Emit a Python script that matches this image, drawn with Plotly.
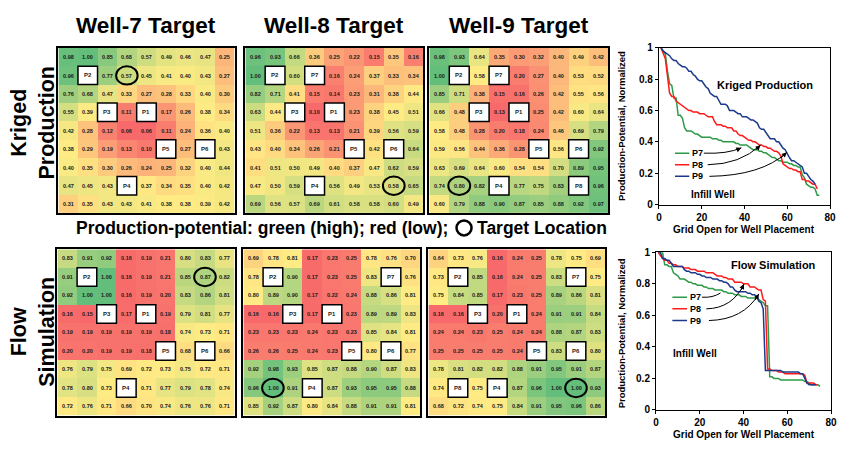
import numpy as np
import plotly.graph_objects as go

W, H = 843, 450
N = None  # cell occupied by an existing well

# ---------------- production-potential grids (9 x 9) ----------------
kriged_w7 = [
    [0.98, 1.00, 0.85, 0.68, 0.57, 0.49, 0.46, 0.47, 0.25],
    [0.96, N,    0.77, 0.57, 0.45, 0.41, 0.40, 0.43, 0.27],
    [0.76, 0.68, 0.47, 0.33, 0.27, 0.28, 0.33, 0.40, 0.30],
    [0.55, 0.39, N,    0.11, N,    0.17, 0.26, 0.38, 0.34],
    [0.42, 0.28, 0.12, 0.06, 0.06, 0.11, 0.24, 0.36, 0.40],
    [0.38, 0.29, 0.19, 0.13, 0.10, N,    0.27, N,    0.43],
    [0.40, 0.35, 0.30, 0.26, 0.24, 0.25, 0.32, 0.40, 0.44],
    [0.47, 0.45, 0.43, N,    0.37, 0.34, 0.35, 0.40, 0.42],
    [0.31, 0.35, 0.43, 0.43, 0.41, 0.38, 0.38, 0.39, 0.42],
]
kriged_w8 = [
    [0.96, 0.93, 0.66, 0.36, 0.25, 0.22, 0.15, 0.35, 0.16],
    [1.00, N,    0.60, N,    0.16, 0.24, 0.37, 0.33, 0.34],
    [0.82, 0.71, 0.41, 0.15, 0.14, 0.23, 0.31, 0.38, 0.44],
    [0.63, 0.44, N,    0.10, N,    0.23, 0.38, 0.45, 0.51],
    [0.51, 0.36, 0.22, 0.13, 0.13, 0.21, 0.39, 0.56, 0.59],
    [0.43, 0.40, 0.34, 0.26, 0.21, N,    0.42, N,    0.64],
    [0.41, 0.51, 0.50, 0.49, 0.40, 0.37, 0.47, 0.62, 0.59],
    [0.47, 0.50, 0.59, N,    0.56, 0.49, 0.53, 0.58, 0.65],
    [0.69, 0.56, 0.57, 0.69, 0.61, 0.58, 0.58, 0.60, 0.49],
]
kriged_w9 = [
    [0.98, 0.93, 0.64, 0.35, 0.30, 0.32, 0.40, 0.49, 0.42],
    [1.00, N,    0.58, N,    0.20, 0.27, 0.40, 0.53, 0.52],
    [0.85, 0.71, 0.38, 0.15, 0.16, 0.26, 0.42, 0.55, 0.56],
    [0.66, 0.48, N,    0.13, N,    0.25, 0.42, 0.60, 0.64],
    [0.58, 0.48, 0.28, 0.20, 0.18, 0.24, 0.46, 0.69, 0.79],
    [0.59, 0.56, 0.44, 0.36, 0.28, N,    0.56, N,    0.92],
    [0.63, 0.69, 0.64, 0.60, 0.54, 0.54, 0.70, 0.89, 0.95],
    [0.74, 0.80, 0.82, N,    0.77, 0.75, 0.83, N,    0.96],
    [0.60, 0.79, 0.88, 0.90, 0.87, 0.85, 0.88, 0.92, 0.97],
]
flow_w7 = [
    [0.83, 0.91, 0.92, 0.16, 0.19, 0.21, 0.80, 0.83, 0.77],
    [0.91, N,    1.00, 0.16, 0.19, 0.21, 0.85, 0.87, 0.82],
    [0.92, 1.00, 1.00, 0.16, 0.19, 0.20, 0.83, 0.86, 0.81],
    [0.16, 0.15, N,    0.17, N,    0.19, 0.79, 0.81, 0.77],
    [0.19, 0.19, 0.19, 0.19, 0.19, 0.18, 0.74, 0.73, 0.71],
    [0.20, 0.20, 0.19, 0.19, 0.18, N,    0.68, N,    0.66],
    [0.76, 0.79, 0.75, 0.69, 0.72, 0.73, 0.75, 0.72, 0.71],
    [0.78, 0.80, 0.73, N,    0.71, 0.77, 0.79, 0.78, 0.74],
    [0.72, 0.76, 0.71, 0.66, 0.70, 0.74, 0.76, 0.76, 0.71],
]
flow_w8 = [
    [0.69, 0.78, 0.81, 0.17, 0.23, 0.25, 0.78, 0.76, 0.70],
    [0.78, N,    0.90, 0.17, 0.23, 0.25, 0.83, N,    0.76],
    [0.80, 0.89, 0.90, 0.17, 0.22, 0.24, 0.88, 0.86, 0.81],
    [0.16, 0.16, N,    0.17, N,    0.23, 0.89, 0.89, 0.83],
    [0.23, 0.23, 0.23, 0.24, 0.23, 0.23, 0.85, 0.84, 0.81],
    [0.26, 0.26, 0.25, 0.24, 0.23, N,    0.80, N,    0.77],
    [0.92, 0.98, 0.93, 0.85, 0.87, 0.88, 0.90, 0.87, 0.83],
    [0.96, 1.00, 0.91, N,    0.87, 0.93, 0.95, 0.95, 0.88],
    [0.85, 0.92, 0.87, 0.80, 0.84, 0.88, 0.91, 0.91, 0.81],
]
flow_w9 = [
    [0.64, 0.73, 0.76, 0.16, 0.24, 0.25, 0.78, 0.75, 0.69],
    [0.73, N,    0.85, 0.16, 0.24, 0.25, 0.83, N,    0.75],
    [0.75, 0.84, 0.85, 0.17, 0.23, 0.25, 0.89, 0.86, 0.81],
    [0.16, 0.16, N,    0.20, N,    0.24, 0.91, 0.91, 0.84],
    [0.24, 0.24, 0.23, 0.25, 0.24, 0.24, 0.88, 0.87, 0.83],
    [0.25, 0.25, 0.25, 0.25, 0.24, N,    0.83, N,    0.80],
    [0.78, 0.81, 0.82, 0.82, 0.88, 0.91, 0.95, 0.91, 0.87],
    [0.74, N,    0.75, N,    0.87, 0.96, 1.00, 1.00, 0.93],
    [0.68, 0.72, 0.74, 0.75, 0.84, 0.91, 0.95, 0.96, 0.86],
]

# existing wells (row, col) and the target location of each scenario
base_wells = {"P1": (3, 4), "P2": (1, 1), "P3": (3, 2), "P4": (7, 3), "P5": (5, 5), "P6": (5, 7)}
kriged_wells = [base_wells,
                {**base_wells, "P7": (1, 3)},
                {**base_wells, "P7": (1, 3), "P8": (7, 7)}]
flow_wells = [base_wells,
              {**base_wells, "P7": (1, 7)},
              {**base_wells, "P7": (1, 7), "P8": (7, 1)}]
kriged_targets = [(1, 3), (7, 7), (7, 1)]
flow_targets = [(1, 7), (7, 1), (7, 7)]

targets = ["Well-7 Target", "Well-8 Target", "Well-9 Target"]
curve_names = ["P7", "P8", "P9"]
curve_colors = ["#2E9A47", "#FF1A1A", "#1B3A8C"]

grids = [kriged_w7, kriged_w8, kriged_w9, flow_w7, flow_w8, flow_w9]
wells_all = kriged_wells + flow_wells
targets_all = kriged_targets + flow_targets

# panel boxes in pixels: (left, right, top, bottom)
heat_boxes = [(56, 234, 43, 213), (245, 425, 43, 213), (431, 612, 43, 213),
              (55, 234, 250, 421), (243, 422, 250, 421), (430, 609, 250, 421)]
line_boxes = [(663, 836, 43, 204), (660, 837, 253, 415)]

FONT = "Liberation Sans"
fig = go.Figure()
layout = {}
shapes = []
annotations = []


def ax_keys(i):
    return ("xaxis" if i == 1 else f"xaxis{i}", "yaxis" if i == 1 else f"yaxis{i}",
            "x" if i == 1 else f"x{i}", "y" if i == 1 else f"y{i}")


def paper_text(xp, yp, text, size, angle=0, xanchor="center"):
    return dict(xref="paper", yref="paper", x=xp / W, y=1 - yp / H, text=text,
                xanchor=xanchor, yanchor="middle", textangle=angle, showarrow=False,
                font=dict(family=FONT, size=size, color="black"))


# ---------------- heatmaps ----------------
for k, grid in enumerate(grids):
    i = k + 1
    xk, yk, xr, yr = ax_keys(i)
    arr = np.array([[np.nan if v is None else v for v in row] for row in grid])
    vmin, vmax, med = np.nanmin(arr), np.nanmax(arr), np.nanmedian(arr)
    mid = (med - vmin) / (vmax - vmin)
    cscale = [[0, "#F8696B"], [mid, "#FFEB84"], [1, "#63BE7B"]]
    text = [["" if v is None else f"{v:.2f}" for v in row] for row in grid]
    fig.add_trace(go.Heatmap(
        z=grid, text=text, texttemplate="%{text}",
        textfont=dict(family=FONT, size=5.5, color="#1a1a1a", weight="bold"),
        colorscale=cscale, zmin=vmin, zmax=vmax, showscale=False,
        hoverinfo="skip", xaxis=xr, yaxis=yr))
    l, r, t, b = heat_boxes[k]
    common = dict(showticklabels=False, ticks="", showgrid=False, zeroline=False,
                  showline=True, mirror=True, linecolor="black", linewidth=1.5)
    layout[xk] = dict(domain=[l / W, r / W], anchor=yr, range=[-0.5, 8.5], **common)
    layout[yk] = dict(domain=[1 - b / H, 1 - t / H], anchor=xr, range=[8.5, -0.5], **common)

    for name, (rr, cc) in wells_all[k].items():
        shapes.append(dict(type="rect", xref=xr, yref=yr, x0=cc - 0.5, x1=cc + 0.5,
                           y0=rr - 0.5, y1=rr + 0.5, fillcolor="white",
                           line=dict(color="black", width=1.5), layer="above"))
        annotations.append(dict(xref=xr, yref=yr, x=cc, y=rr, text=f"<b>{name}</b>",
                                showarrow=False, font=dict(family=FONT, size=6, color="#222")))
    tr, tc = targets_all[k]
    shapes.append(dict(type="circle", xref=xr, yref=yr, x0=tc - 0.55, x1=tc + 0.55,
                       y0=tr - 0.5, y1=tr + 0.5, line=dict(color="black", width=2),
                       layer="above"))

# column titles and row labels
for k in range(3):
    l, r, _, _ = heat_boxes[k]
    annotations.append(paper_text((l + r) / 2, 20, f"<b>{targets[k]}</b>", 22.5))
annotations.append(paper_text(30, 120, "<b>Kriged<br>Production</b>", 21.5, angle=-90))
annotations.append(paper_text(30, 335, "<b>Flow<br>Simulation</b>", 21.5, angle=-90))

# colour key line between the rows
annotations.append(paper_text(72, 228, "<b>Production-potential: green (high); red (low);</b>",
                              17.5, xanchor="left"))
annotations.append(paper_text(477, 228, "<b>Target Location</b>", 17.5, xanchor="left"))
shapes.append(dict(type="circle", xref="paper", yref="paper", xsizemode="pixel",
                   ysizemode="pixel", xanchor=466 / W, yanchor=1 - 228 / H,
                   x0=-7.5, x1=7.5, y0=-7.5, y1=7.5, line=dict(color="black", width=2.5)))

# ---------------- ranked production-potential curves ----------------
panel_grids = [[kriged_w7, kriged_w8, kriged_w9], [flow_w7, flow_w8, flow_w9]]
panel_titles = ["Kriged Production", "Flow Simulation"]
title_pos = [(49.5, 0.765), (53.5, 0.918)]
infill_pos = [(25.4, 0.064), (17.9, 0.357)]
legend_y = [[0.328, 0.254, 0.180], [0.715, 0.641, 0.567]]
arrows = [
    [((21.0, 0.328), (32, 0.322), (38.5, 0.362)),
     ((22.8, 0.254), (38, 0.257), (47.5, 0.379)),
     ((23.6, 0.180), (48, 0.185), (59.8, 0.333))],
    [((21.0, 0.715), (26, 0.710), (29.5, 0.742)),
     ((23.0, 0.641), (35, 0.645), (40.2, 0.798)),
     ((24.2, 0.567), (40, 0.572), (47.0, 0.736))],
]
ytitle_center = [123, 336]
xtitle_y = [230, 440]

for p in range(2):
    i = 7 + p
    xk, yk, xr, yr = ax_keys(i)
    for s, grid in enumerate(panel_grids[p]):
        vals = sorted([v for row in grid for v in row if v is not None], reverse=True)
        xs = np.arange(1, len(vals) + 1)
        fig.add_trace(go.Scatter(x=xs, y=vals, mode="lines", name=curve_names[s],
                                 line=dict(color=curve_colors[s], width=1.5),
                                 showlegend=False, hoverinfo="skip", xaxis=xr, yaxis=yr))
    l, r, t, b = line_boxes[p]
    common = dict(showgrid=False, zeroline=False, showline=True, mirror=True,
                  linecolor="black", linewidth=1, ticks="outside", ticklen=3,
                  tickcolor="black",
                  tickfont=dict(family=FONT, size=10, color="black", weight="bold"))
    layout[xk] = dict(domain=[l / W, r / W], anchor=yr, range=[0, 80], dtick=20, **common)
    layout[yk] = dict(domain=[1 - b / H, 1 - t / H], anchor=xr, range=[0, 1], dtick=0.2, **common)

    annotations.append(dict(xref=xr, yref=yr, x=title_pos[p][0], y=title_pos[p][1],
                            text=f"<b>{panel_titles[p]}</b>", showarrow=False,
                            font=dict(family=FONT, size=11, color="black")))
    annotations.append(dict(xref=xr, yref=yr, x=infill_pos[p][0], y=infill_pos[p][1],
                            text="<b>Infill Well</b>", showarrow=False,
                            font=dict(family=FONT, size=10, color="black")))
    annotations.append(paper_text(625, ytitle_center[p],
                                  "<b>Production-Potential, Normalized</b>", 9.5, angle=-90))
    annotations.append(paper_text((l + r) / 2, xtitle_y[p],
                                  "<b>Grid Open for Well Placement</b>", 10))
    for s in range(3):
        ly = legend_y[p][s]
        shapes.append(dict(type="line", xref=xr, yref=yr, x0=7.5, x1=14.2, y0=ly, y1=ly,
                           line=dict(color=curve_colors[s], width=1.5)))
        annotations.append(dict(xref=xr, yref=yr, x=15.0, y=ly, xanchor="left",
                                yanchor="middle", text=f"<b>{curve_names[s]}</b>",
                                showarrow=False, borderpad=0,
                                font=dict(family=FONT, size=9, color="black")))
        (x0, y0), (cx, cy), (x1, y1) = arrows[p][s]
        shapes.append(dict(type="path", xref=xr, yref=yr,
                           path=f"M {x0},{y0} Q {cx},{cy} {x1},{y1}",
                           line=dict(color="black", width=1)))
        annotations.append(dict(xref=xr, yref=yr, x=x1, y=y1, axref=xr, ayref=yr,
                                ax=x1 - (x1 - cx) * 0.3, ay=y1 - (y1 - cy) * 0.3,
                                text="", showarrow=True, arrowhead=2, arrowsize=1,
                                arrowwidth=1, arrowcolor="black", standoff=0))

fig.update_layout(width=W, height=H, margin=dict(l=0, r=0, t=0, b=0),
                  paper_bgcolor="white", plot_bgcolor="white",
                  shapes=shapes, annotations=annotations, showlegend=False, **layout)
fig.write_html("out.html")
